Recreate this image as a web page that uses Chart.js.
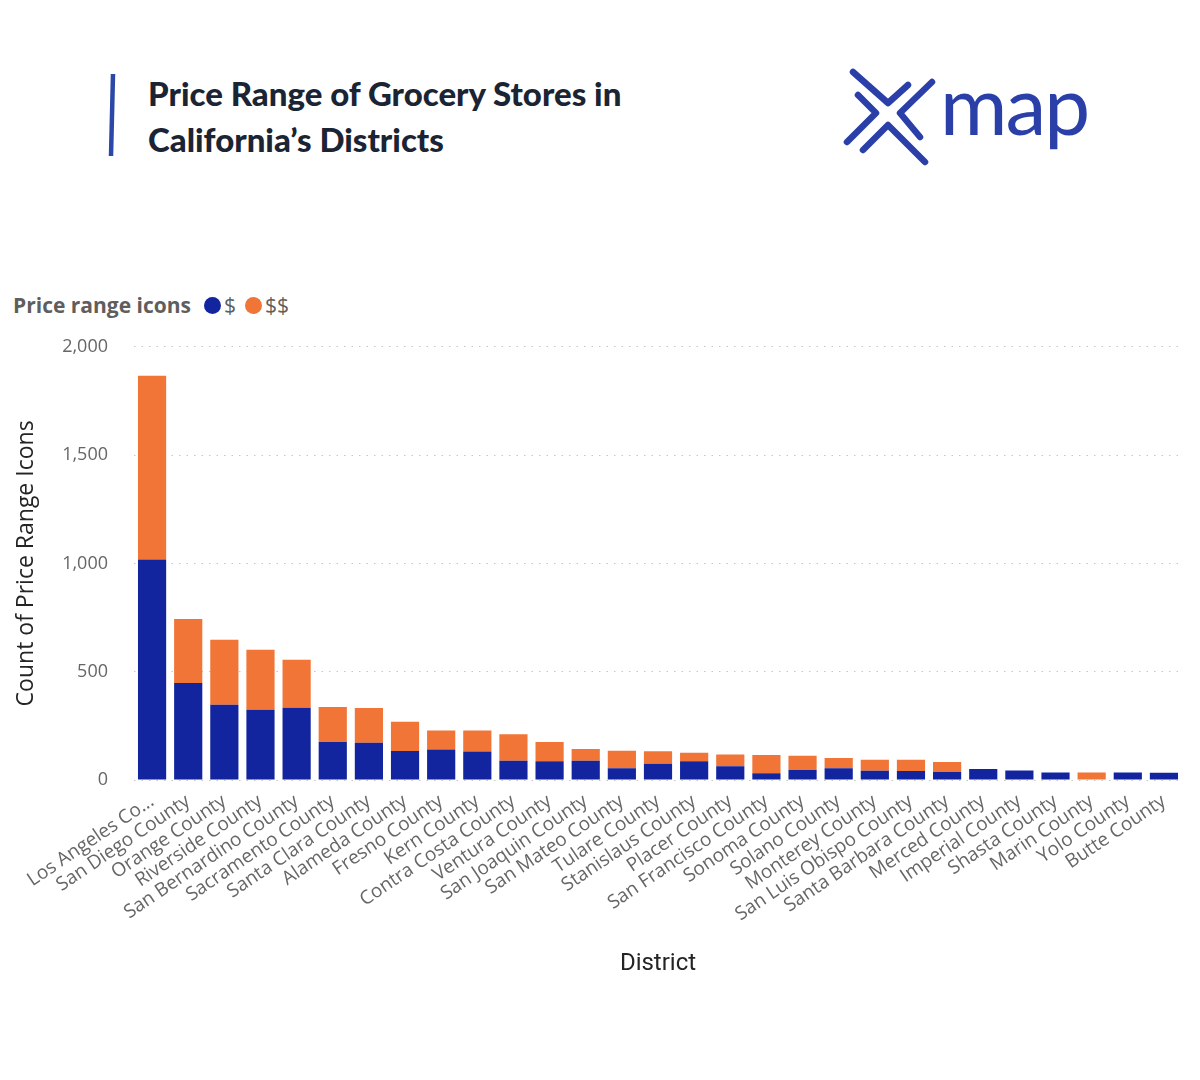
<!DOCTYPE html>
<html>
<head>
<meta charset="utf-8">
<title>Price Range of Grocery Stores in California’s Districts</title>
<script src="https://cdn.jsdelivr.net/npm/chart.js@4.4.0/dist/chart.umd.min.js"></script>
<style>
    body { margin: 0; background: #fff; width: 1200px; height: 1080px; position: relative; overflow: hidden; font-family: "Open Sans", sans-serif; }
    #deco { position: absolute; left: 0; top: 0; }
    #title { position: absolute; left: 148px; top: 70px; margin: 0; font-family: Lato, sans-serif; font-weight: 900; font-size: 33px; line-height: 46px; color: #1b2433; }
    #legend { position: absolute; left: 13px; top: 291px; display: flex; align-items: center; font-size: 21px; color: #605e5c; }
    #legend b { margin-right: 13px; }
    #legend .dot { display: inline-block; width: 17px; height: 17px; border-radius: 50%; margin-right: 3px; }
    #legend .item { display: flex; align-items: center; margin-right: 9px; }
    #wrap { position: absolute; left: 0; top: 310px; width: 1200px; height: 680px; }
</style>
</head>
<body>

<svg id="deco" width="1200" height="200">
    <line x1="113" y1="74" x2="111" y2="156" stroke="#2b47a8" stroke-width="4.5" />
    <g fill="none" stroke="#2b3fa8" stroke-width="6.5" stroke-linecap="round" stroke-linejoin="round">
        <polyline points="853,72 888,103 908,85" />
        <polyline points="858,95 876,113 847,142" />
        <polyline points="932,82 900,113 920,137" />
        <polyline points="863,150 888,125 925,162" />
    </g>
    <text x="940" y="135" font-family="Lato" font-size="82" fill="#2b3fa8" letter-spacing="-2">map</text>
</svg>

<h1 id="title">Price Range of Grocery Stores in<br>California’s Districts</h1>

<div id="legend"><b>Price range icons</b></div>

<div id="wrap"><canvas id="priceChart" width="1200" height="680"></canvas></div>

<script>
// Districts, sorted by total count
const districts = [
    'Los Angeles Co...', 'San Diego County', 'Orange County', 'Riverside County',
    'San Bernardino County', 'Sacramento County', 'Santa Clara County', 'Alameda County',
    'Fresno County', 'Kern County', 'Contra Costa County', 'Ventura County',
    'San Joaquin County', 'San Mateo County', 'Tulare County', 'Stanislaus County',
    'Placer County', 'San Francisco County', 'Sonoma County', 'Solano County',
    'Monterey County', 'San Luis Obispo County', 'Santa Barbara County', 'Merced County',
    'Imperial County', 'Shasta County', 'Marin County', 'Yolo County', 'Butte County'
];

// "$" stores
const cheapCounts = [
    1018, 448, 347, 324, 334, 175, 172, 134, 141, 132, 89, 87,
    89, 54, 75, 86, 63, 31, 46, 54, 43, 41, 37, 51,
    44, 35, 0, 35, 34
];

// "$$" stores
const midCounts = [
    848, 295, 300, 277, 221, 162, 160, 135, 87, 96, 122, 88,
    54, 81, 58, 40, 55, 84, 66, 47, 51, 53, 46, 0,
    0, 0, 35, 0, 0
];

const seriesNames = ['$', '$$'];
const seriesColors = ['#12259f', '#f07537'];
const yTicks = [0, 500, 1000, 1500, 2000];

// html legend
const legendEl = document.getElementById('legend');
seriesNames.forEach((name, i) => {
    const item = document.createElement('span');
    item.className = 'item';
    item.innerHTML = '<span class="dot" style="background:' + seriesColors[i] + '"></span>' + name;
    legendEl.appendChild(item);
});

const ctx = document.getElementById('priceChart').getContext('2d');
const chart = new Chart(ctx, {
    type: 'bar',
    data: {
        labels: districts,
        datasets: [
            { label: seriesNames[0], data: cheapCounts, backgroundColor: seriesColors[0] },
            { label: seriesNames[1], data: midCounts, backgroundColor: seriesColors[1] }
        ]
    },
    options: {
        responsive: false,
        animation: false,
        devicePixelRatio: 1,
        barPercentage: 0.78,
        categoryPercentage: 1,
        layout: { padding: { top: 15, right: 18, left: 0, bottom: 0 } },
        plugins: {
            legend: { display: false },
            tooltip: { enabled: false }
        },
        scales: {
            x: {
                stacked: true,
                grid: { display: false },
                border: { display: false },
                ticks: {
                    autoSkip: false,
                    maxRotation: 34,
                    minRotation: 34,
                    padding: 2,
                    color: '#666666',
                    font: { family: 'Open Sans', size: 19 }
                },
                title: {
                    display: true,
                    text: 'District',
                    color: '#252423',
                    font: { family: 'Roboto', size: 24 },
                    padding: { top: 0, bottom: 12 }
                },
                afterFit: function(scale) { scale.height = 210; }
            },
            y: {
                stacked: true,
                min: 0,
                max: 2000,
                afterBuildTicks: function(scale) {
                    scale.ticks = yTicks.map(v => ({ value: v }));
                },
                grid: { color: '#c8c6c4', lineWidth: 1, drawTicks: false },
                border: { display: false, dash: [1.5, 6] },
                ticks: {
                    padding: 26,
                    color: '#666666',
                    font: { family: 'Open Sans', size: 18 }
                },
                title: {
                    display: true,
                    text: 'Count of Price Range Icons',
                    color: '#252423',
                    font: { family: 'Open Sans', size: 23 },
                    padding: { top: 13, bottom: 0 }
                },
                afterFit: function(scale) { scale.width = 134; }
            }
        }
    }
});
</script>
</body>
</html>
